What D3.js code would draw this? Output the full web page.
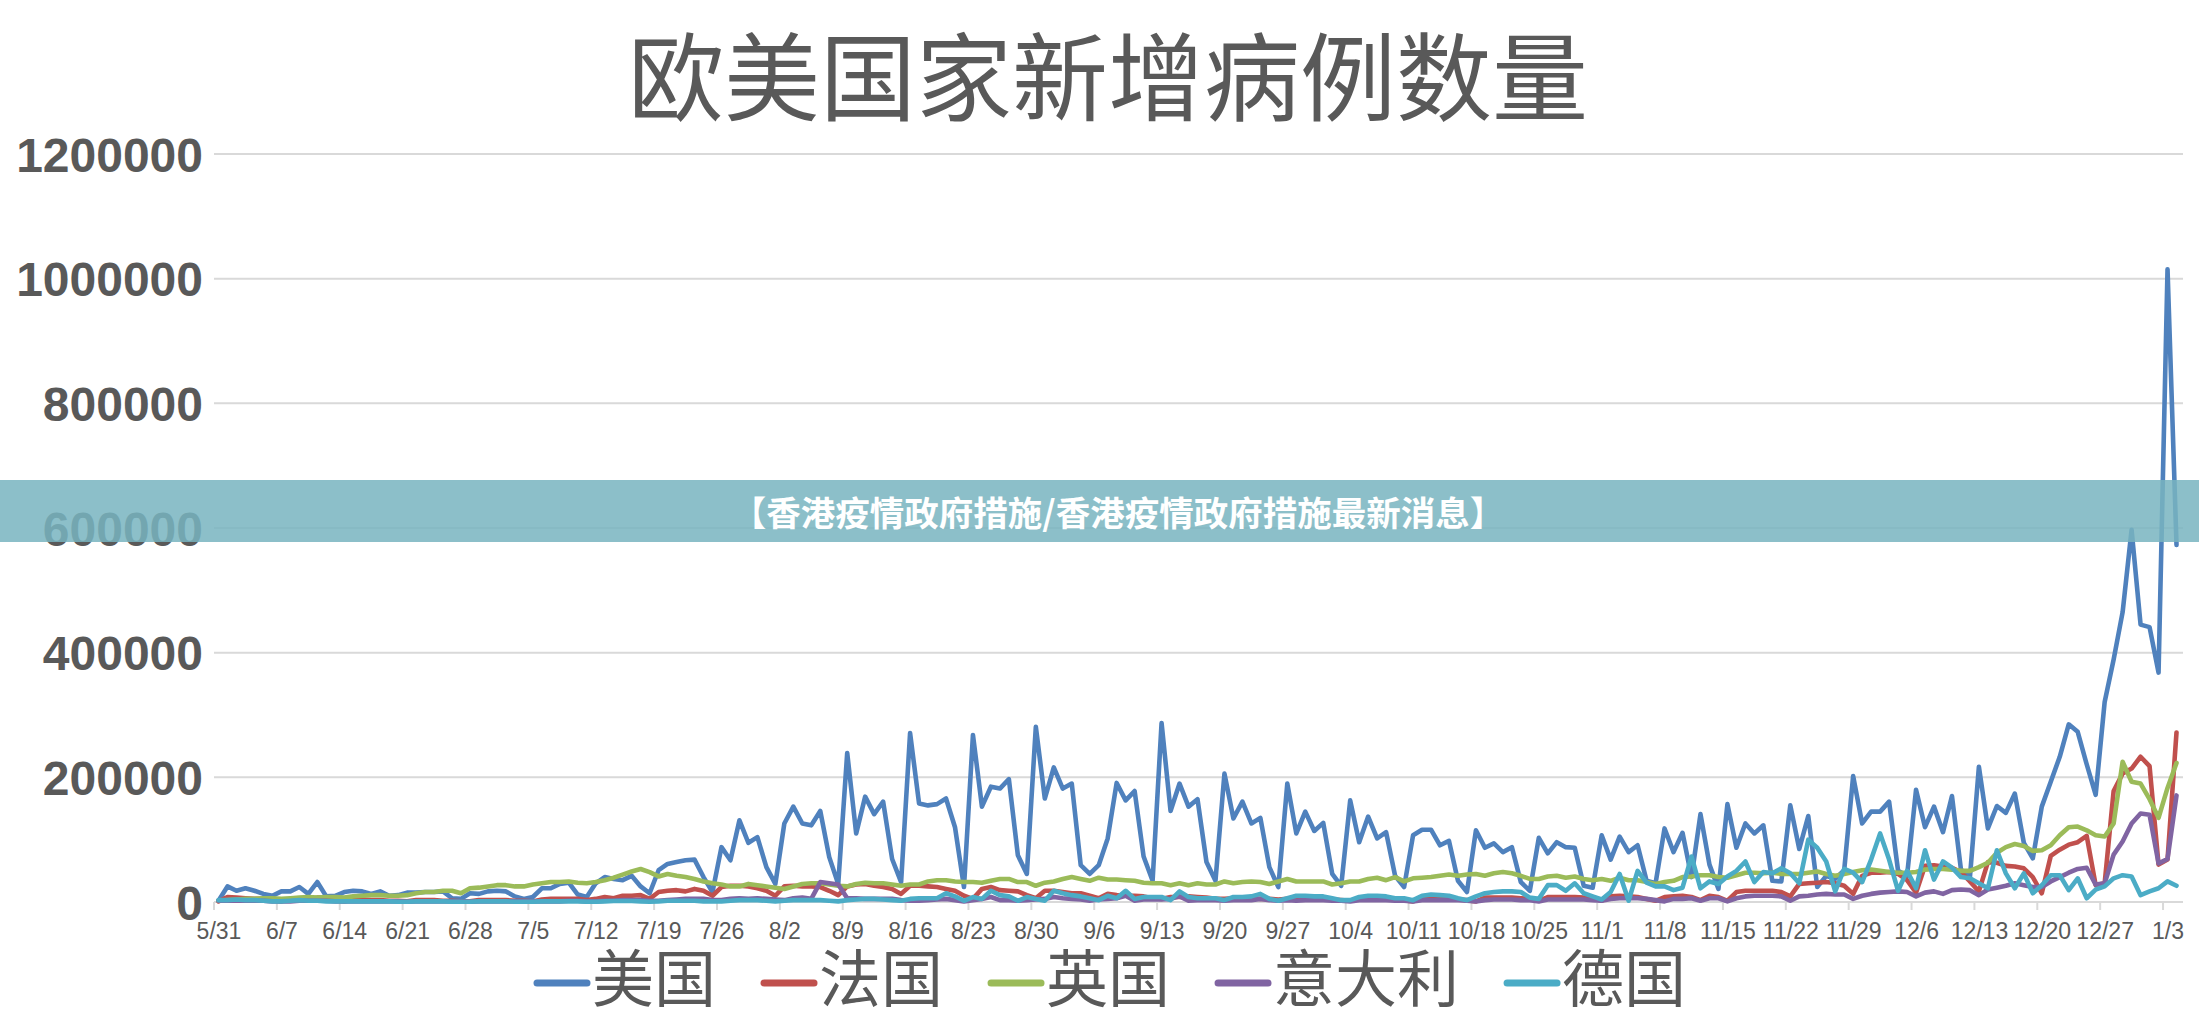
<!DOCTYPE html>
<html>
<head>
<meta charset="utf-8">
<script src="https://cdn.jsdelivr.net/npm/d3@7/dist/d3.min.js"></script>
<style>
  html, body { margin: 0; padding: 0; background: #fff; }
  svg { display: block; }
</style>
</head>
<body>
<svg id="chart" width="2199" height="1020"></svg>
<script>
// ---------------- DATA ----------------
const title = "欧美国家新增病例数量";
const bannerText = "【香港疫情政府措施/香港疫情政府措施最新消息】";
const seriesNames = ["美国", "法国", "英国", "意大利", "德国"];
const seriesColors = ["#4F81BD", "#C0504D", "#9BBB59", "#8064A2", "#4BACC6"];
const yTicks = [0, 200000, 400000, 600000, 800000, 1000000, 1200000];
const tickLabels = ["5/31","6/7","6/14","6/21","6/28","7/5","7/12","7/19","7/26","8/2","8/9","8/16","8/23","8/30","9/6","9/13","9/20","9/27","10/4","10/11","10/18","10/25","11/1","11/8","11/15","11/22","11/29","12/6","12/13","12/20","12/27","1/3"];
// categories: every day from 5/31 to 1/4
const categories = d3.utcDay.range(new Date(Date.UTC(2021,4,31)), new Date(Date.UTC(2022,0,5)))
  .map(d3.utcFormat("%-m/%-d"));

const usa = [2000,25000,18000,22000,18000,13000,10000,17000,17000,24000,
13000,32000,9000,10000,16000,18000,17000,13000,17000,10000,
11000,15000,15000,16000,16000,17000,6000,5000,14000,13000,
17000,18000,17000,9000,5000,8000,22000,22000,29000,31000,
12000,8000,30000,40000,37000,35000,42000,25000,14000,51000,
61000,64000,67000,68000,40000,16000,88000,67000,131000,95000,
104000,56000,29000,126000,153000,126000,123000,146000,72000,29000,
239000,110000,169000,141000,161000,69000,32000,271000,158000,155000,
157000,166000,120000,24000,268000,153000,185000,182000,197000,75000,
45000,281000,166000,216000,182000,190000,59000,45000,59000,102000,
191000,163000,178000,73000,34000,287000,146000,190000,153000,165000,
64000,34000,206000,134000,161000,126000,135000,56000,24000,190000,
110000,145000,114000,127000,45000,26000,163000,96000,137000,102000,
112000,42000,24000,107000,116000,116000,91000,98000,34000,16000,
115000,87000,94000,80000,88000,32000,18000,103000,78000,96000,
88000,87000,26000,23000,107000,68000,105000,80000,91000,34000,
30000,118000,80000,111000,40000,141000,60000,21000,157000,87000,
126000,110000,123000,34000,33000,155000,85000,138000,24000,42000,
37000,51000,202000,126000,145000,145000,161000,50000,42000,180000,
120000,153000,112000,170000,52000,40000,217000,118000,154000,143000,
174000,95000,70000,153000,193000,233000,285000,273000,221000,172000,
321000,389000,465000,597000,445000,441000,368000,1015000,573000];

const france = [1000,8000,7000,6000,5000,5000,3000,1000,5000,5000,
4000,7000,7000,3000,1000,4000,4000,3000,3000,2000,
2000,1000,3000,3000,3000,2000,2000,1000,1000,3000,
3000,3000,3000,2000,2000,1000,4000,5000,5000,5000,
5000,3000,5000,8000,6000,10000,10000,11000,5000,16000,
18000,19000,17000,21000,18000,10000,24000,26000,26000,25000,
22000,18000,10000,25000,26000,25000,25000,24000,18000,11000,
25000,28000,29000,26000,24000,21000,13000,26000,26000,25000,
24000,21000,18000,10000,5000,21000,24000,19000,18000,17000,
11000,6000,18000,18000,16000,14000,14000,10000,6000,13000,
11000,10000,10000,9000,6000,5000,8000,8000,9000,8000,
7000,5000,5000,6000,6000,6000,5000,5000,4000,5000,
5000,5000,5000,4000,4000,3000,2000,5000,5000,5000,
4000,4000,3000,1000,5000,5000,5000,5000,4000,3000,
1000,7000,7000,7000,7000,6000,5000,2000,8000,8000,
8000,8000,7000,6000,2000,9000,10000,9000,8000,5000,
2000,8000,9000,10000,8000,3000,10000,8000,2000,16000,
18000,18000,18000,18000,16000,9000,29000,30000,31000,32000,
30000,26000,13000,42000,47000,47000,48000,45000,35000,15000,
58000,59000,57000,55000,48000,33000,17000,64000,63000,58000,
57000,54000,40000,14000,74000,84000,92000,96000,106000,27000,
30000,178000,206000,214000,233000,218000,60000,68000,272000];

const uk = [2000,3000,4000,5000,5000,6000,6000,5000,6000,7000,
8000,7000,8000,8000,7000,9000,10000,11000,11000,10000,
10000,11000,14000,16000,16000,18000,18000,14000,22000,23000,
25000,27000,27000,25000,25000,28000,30000,32000,32000,33000,
31000,30000,32000,35000,39000,44000,49000,53000,48000,41000,
45000,42000,40000,37000,33000,30000,28000,25000,25000,29000,
27000,25000,23000,21000,25000,29000,30000,30000,28000,26000,
25000,29000,31000,30000,30000,28000,26000,28000,28000,33000,
35000,35000,33000,32000,32000,31000,34000,37000,37000,32000,
32000,26000,31000,33000,37000,40000,37000,34000,39000,36000,
36000,35000,34000,31000,30000,30000,27000,30000,27000,30000,
28000,28000,33000,30000,32000,33000,32000,29000,33000,37000,
33000,33000,33000,33000,28000,30000,33000,33000,37000,39000,
35000,40000,33000,38000,39000,40000,42000,44000,42000,44000,
45000,42000,46000,48000,46000,42000,37000,37000,41000,42000,
39000,41000,37000,35000,37000,34000,39000,35000,35000,32000,
29000,32000,34000,40000,41000,43000,43000,40000,39000,43000,
47000,47000,46000,47000,45000,45000,45000,47000,49000,45000,
42000,45000,48000,51000,52000,50000,48000,47000,47000,48000,
52000,53000,53000,52000,50000,50000,56000,63000,79000,88000,
93000,90000,82000,83000,91000,107000,120000,121000,115000,107000,
105000,126000,225000,193000,190000,165000,135000,183000,223000];

const italy = [2000,2000,2000,2000,2000,2000,1000,1000,1000,2000,
2000,2000,2000,1000,1000,1000,1000,1000,1000,1000,
1000,500,1000,1000,1000,1000,1000,1000,500,1000,
1000,1000,1000,1000,1000,1000,1000,1000,1000,2000,
2000,1000,1000,2000,2000,3000,3000,3000,2000,2000,
3000,4000,5000,5000,5000,3000,3000,5000,6000,5000,
6000,5000,4000,3000,6000,7000,5000,32000,30000,28000,
6000,6000,5000,5000,5000,5000,3000,2000,2000,3000,
4000,5000,3000,1000,3000,5000,8000,3000,3000,2000,
3000,4000,5000,8000,6000,5000,4000,2000,4000,5000,
6000,10000,2000,4000,4000,4000,5000,9000,2000,3000,
3000,3000,2000,3000,3000,3000,5000,3000,2000,3000,
2000,3000,3000,3000,2000,2000,1000,3000,3000,3000,
3000,2000,2000,1000,3000,3000,3000,3000,3000,2000,
1000,3000,4000,4000,4000,3000,3000,1000,4000,4000,
4000,4000,4000,3000,2000,5000,6000,6000,6000,5000,
3000,1000,5000,5000,6000,2000,6000,6000,1000,6000,
9000,10000,10000,10000,9000,2000,9000,10000,12000,13000,
12000,12000,5000,10000,13000,15000,16000,17000,16000,9000,
15000,17000,13000,19000,20000,19000,11000,20000,23000,26000,
30000,27000,24000,24000,33000,40000,47000,53000,55000,28000,
30000,76000,97000,126000,142000,140000,62000,69000,171000];

const germany = [3000,3000,4000,3000,3000,2000,1000,1000,2000,3000,
2000,2000,1000,1000,1000,1000,1000,1000,1000,1000,
500,500,1000,1000,1000,1000,500,500,500,1000,
1000,1000,1000,500,500,500,1000,1000,1000,1000,
1000,500,500,1000,1500,1500,1500,1000,500,1000,
2000,2000,2000,2000,1000,1000,1000,2000,3000,3000,
3000,2000,1000,2000,3000,3000,3000,3000,2000,1000,
3000,4000,5000,5000,4000,3000,2000,5000,6000,6000,
6000,14000,9000,2000,8000,5000,18000,11000,9000,2000,
8000,5000,2000,18000,14000,11000,9000,6000,3000,10000,
6000,18000,5000,8000,8000,8000,3000,17000,8000,6000,
6000,6000,3000,8000,8000,9000,13000,5000,2000,6000,
10000,10000,9000,9000,6000,3000,3000,8000,10000,10000,
9000,6000,6000,3000,10000,12000,11000,10000,6000,3000,
9000,14000,16000,17000,17000,16000,7000,5000,27000,27000,
18000,30000,14000,9000,4000,16000,45000,2000,50000,31000,
25000,25000,19000,23000,73000,22000,33000,29000,41000,50000,
65000,32000,48000,46000,54000,46000,30000,100000,87000,65000,
17000,53000,47000,32000,68000,110000,68000,18000,50000,22000,
83000,36000,65000,55000,40000,38000,30000,22000,83000,46000,
22000,46000,14000,27000,43000,43000,19000,38000,6000,20000,
25000,38000,43000,41000,11000,17000,22000,33000,26000];

const seriesValues = [usa, france, uk, italy, germany];

// ---------------- CHART ----------------
const svg = d3.select("#chart");
svg.append("rect").attr("width", 2199).attr("height", 1020).attr("fill", "#fff");

const plotLeft = 214, plotRight = 2181, plotTop = 154, plotBottom = 902;
const x = d3.scalePoint().domain(categories).range([plotLeft, plotRight]).padding(0.5);
const y = d3.scaleLinear().domain([0, 1200000]).range([plotBottom, plotTop]);
const step = x.step();

// title
svg.append("text")
  .attr("x", 1108).attr("y", 113)
  .attr("text-anchor", "middle")
  .attr("font-family", "'Noto Sans CJK SC', sans-serif")
  .attr("font-size", 96)
  .attr("fill", "#595959")
  .text(title);

// gridlines
svg.append("g")
  .selectAll("line")
  .data(yTicks)
  .join("line")
  .attr("x1", plotLeft).attr("x2", plotRight + 2)
  .attr("y1", d => y(d)).attr("y2", d => y(d))
  .attr("stroke", "#d9d9d9").attr("stroke-width", 2);

// y axis labels
const yAxis = d3.axisLeft(y).tickValues(yTicks).tickSize(0).tickPadding(0).tickFormat(d3.format("d"));
const yg = svg.append("g").attr("transform", "translate(203,0)").call(yAxis);
yg.select(".domain").remove();
yg.selectAll("text")
  .attr("font-family", "'Liberation Sans', Arial, sans-serif")
  .attr("font-weight", "bold")
  .attr("font-size", 48)
  .attr("fill", "#595959")
  .attr("dy", "0.36em");

// x axis
const xAxis = d3.axisBottom(x).tickValues(tickLabels).tickSize(0).tickPadding(0);
const xg = svg.append("g").attr("transform", `translate(0,${plotBottom})`).call(xAxis);
xg.select(".domain").remove();
xg.selectAll("text")
  .attr("font-family", "'Liberation Sans', Arial, sans-serif")
  .attr("font-size", 23)
  .attr("fill", "#595959")
  .attr("dy", 0)
  .attr("y", 37);

// tick marks at category boundaries
svg.append("g")
  .selectAll("line")
  .data(tickLabels)
  .join("line")
  .attr("x1", d => x(d) - step / 2).attr("x2", d => x(d) - step / 2)
  .attr("y1", plotBottom).attr("y2", plotBottom + 8)
  .attr("stroke", "#d9d9d9").attr("stroke-width", 2);

// series lines
const line = d3.line()
  .x((d, i) => x(categories[i]))
  .y(d => y(d));

svg.append("g")
  .selectAll("path")
  .data(seriesValues)
  .join("path")
  .attr("d", d => line(d))
  .attr("fill", "none")
  .attr("stroke", (d, i) => seriesColors[i])
  .attr("stroke-width", 4.6)
  .attr("stroke-linejoin", "round")
  .attr("stroke-linecap", "round");

// legend
const legend = svg.append("g");
let lx = 537;
seriesNames.forEach((name, i) => {
  legend.append("line")
    .attr("x1", lx).attr("x2", lx + 50)
    .attr("y1", 983).attr("y2", 983)
    .attr("stroke", seriesColors[i]).attr("stroke-width", 7)
    .attr("stroke-linecap", "round");
  const t = legend.append("text")
    .attr("x", lx + 55).attr("y", 1002)
    .attr("font-family", "'Noto Sans CJK SC', sans-serif")
    .attr("font-size", 62)
    .attr("fill", "#595959")
    .text(name);
  const w = t.node().getComputedTextLength();
  lx = lx + 55 + w + 48;
});

// overlay banner
svg.append("rect")
  .attr("x", 0).attr("y", 480).attr("width", 2199).attr("height", 62)
  .attr("fill", "rgb(120,180,192)").attr("fill-opacity", 0.85);
svg.append("text")
  .attr("x", 1118).attr("y", 511)
  .attr("text-anchor", "middle")
  .attr("dominant-baseline", "central")
  .attr("font-family", "'Noto Sans CJK SC', sans-serif")
  .attr("font-weight", "bold")
  .attr("font-size", 34.5)
  .attr("fill", "#ffffff")
  .text(bannerText);
</script>
</body>
</html>
